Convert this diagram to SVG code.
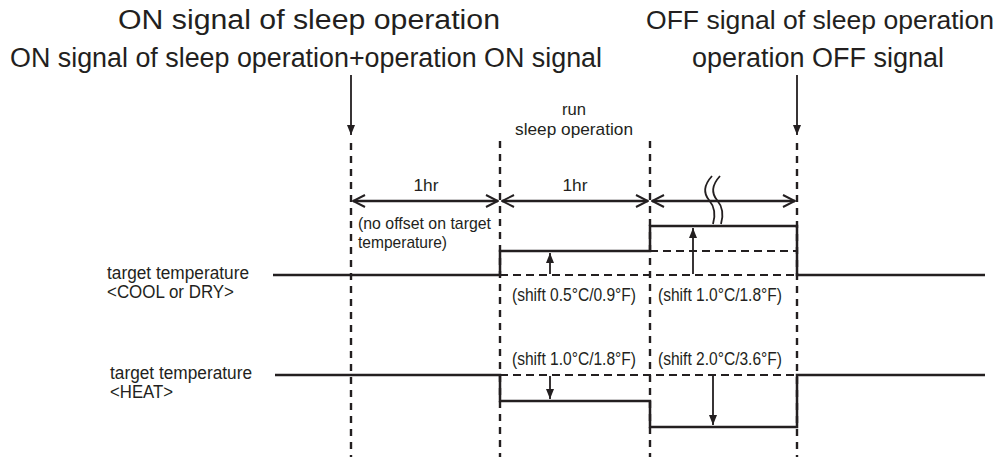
<svg xmlns="http://www.w3.org/2000/svg" width="1005" height="457" viewBox="0 0 1005 457">
<defs>
<style>
text{font-family:"Liberation Sans",Arial,sans-serif;fill:#231f20}
.title{font-size:27px}
.lbl{font-size:17.5px}
.shift{font-size:18px}
.small{font-size:17px}
.vd{stroke:#231f20;stroke-width:2.4;stroke-dasharray:7 6;fill:none}
.hd{stroke:#231f20;stroke-width:2.2;stroke-dasharray:8 5;fill:none}
.sol{stroke:#231f20;stroke-width:2.5;fill:none}
.thin{stroke:#231f20;stroke-width:1.8;fill:none}
</style>
<marker id="tri" viewBox="0 0 10 10" refX="10" refY="5" markerWidth="10" markerHeight="10" markerUnits="userSpaceOnUse" orient="auto">
<path d="M0,1 L10,5 L0,9 Z" fill="#231f20"/>
</marker>
<marker id="chev" viewBox="0 0 14 14" refX="13" refY="7" markerWidth="14" markerHeight="14" markerUnits="userSpaceOnUse" orient="auto-start-reverse">
<path d="M1,1 L13,7 L1,13" fill="none" stroke="#231f20" stroke-width="2"/>
</marker>
</defs>

<g id="title-on">
<text class="title" x="309" y="29" text-anchor="middle" textLength="382" lengthAdjust="spacingAndGlyphs">ON signal of sleep operation</text>
<text class="title" x="306" y="67" text-anchor="middle" textLength="592" lengthAdjust="spacingAndGlyphs">ON signal of sleep operation+operation ON signal</text>
</g>
<g id="title-off">
<text class="title" x="820" y="29" text-anchor="middle" style="font-size:25.5px" textLength="348" lengthAdjust="spacingAndGlyphs">OFF signal of sleep operation</text>
<text class="title" x="818" y="67" text-anchor="middle" textLength="252" lengthAdjust="spacingAndGlyphs">operation OFF signal</text>
</g>
<g id="run-label">
<text class="small" x="574" y="115" text-anchor="middle" textLength="24" lengthAdjust="spacingAndGlyphs">run</text>
<text class="small" x="574" y="135" text-anchor="middle" textLength="118" lengthAdjust="spacingAndGlyphs">sleep operation</text>
</g>

<g id="connectors">
<line class="thin" x1="351" y1="75" x2="351" y2="135" marker-end="url(#tri)"/>
<line class="thin" x1="797" y1="75" x2="797" y2="135" marker-end="url(#tri)"/>
<line class="vd" x1="351" y1="143" x2="351" y2="457"/>
<line class="vd" x1="500" y1="141" x2="500" y2="457"/>
<line class="vd" x1="650" y1="141" x2="650" y2="457"/>
<line class="vd" x1="797" y1="143" x2="797" y2="457"/>
<line class="sol" x1="353" y1="201" x2="498" y2="201" stroke-width="2" marker-start="url(#chev)" marker-end="url(#chev)"/>
<line class="sol" x1="502" y1="201" x2="648" y2="201" stroke-width="2" marker-start="url(#chev)" marker-end="url(#chev)"/>
<line class="sol" x1="652" y1="201" x2="795" y2="201" stroke-width="2" marker-start="url(#chev)" marker-end="url(#chev)"/>
<path class="thin" d="M712,176 C703,186 704,194 709,200 C714,206 716,214 713,224"/>
<path class="thin" d="M720,176 C711,186 712,194 717,200 C722,206 724,214 721,224"/>

<line class="hd" x1="500" y1="275" x2="797" y2="275"/>
<line class="hd" x1="650" y1="251" x2="797" y2="251"/>
<path class="sol" d="M273,275 H500 V251 H650 V226 H797 V275 H985"/>
<line class="thin" x1="550" y1="274" x2="550" y2="253" marker-end="url(#tri)"/>
<line class="thin" x1="693" y1="274" x2="693" y2="228" marker-end="url(#tri)"/>

<line class="hd" x1="500" y1="375" x2="797" y2="375"/>
<path class="sol" d="M275,375 H500 V401 H650 V427 H797 V375 H985"/>
<line class="thin" x1="550" y1="376" x2="550" y2="399" marker-end="url(#tri)"/>
<line class="thin" x1="713" y1="376" x2="713" y2="425" marker-end="url(#tri)"/>
</g>

<g id="duration-labels">
<text class="small" x="426" y="191" text-anchor="middle" textLength="25" lengthAdjust="spacingAndGlyphs">1hr</text>
<text class="small" x="575" y="191" text-anchor="middle" textLength="25" lengthAdjust="spacingAndGlyphs">1hr</text>
<text class="small" x="358" y="229" textLength="133" lengthAdjust="spacingAndGlyphs">(no offset on target</text>
<text class="small" x="358" y="248" textLength="89" lengthAdjust="spacingAndGlyphs">temperature)</text>
</g>

<g id="cool-label">
<text class="lbl" x="107" y="279" textLength="142" lengthAdjust="spacingAndGlyphs">target temperature</text>
<text class="lbl" x="107" y="298" textLength="127" lengthAdjust="spacingAndGlyphs">&lt;COOL or DRY&gt;</text>
</g>
<g id="heat-label">
<text class="lbl" x="110" y="379" textLength="142" lengthAdjust="spacingAndGlyphs">target temperature</text>
<text class="lbl" x="110" y="398" textLength="63" lengthAdjust="spacingAndGlyphs">&lt;HEAT&gt;</text>
</g>

<g id="shift-labels">
<text class="shift" x="512" y="301" textLength="124" lengthAdjust="spacingAndGlyphs">(shift 0.5°C/0.9°F)</text>
<text class="shift" x="658" y="301" textLength="124" lengthAdjust="spacingAndGlyphs">(shift 1.0°C/1.8°F)</text>
<text class="shift" x="512" y="365" textLength="124" lengthAdjust="spacingAndGlyphs">(shift 1.0°C/1.8°F)</text>
<text class="shift" x="658" y="365" textLength="124" lengthAdjust="spacingAndGlyphs">(shift 2.0°C/3.6°F)</text>
</g>
</svg>
